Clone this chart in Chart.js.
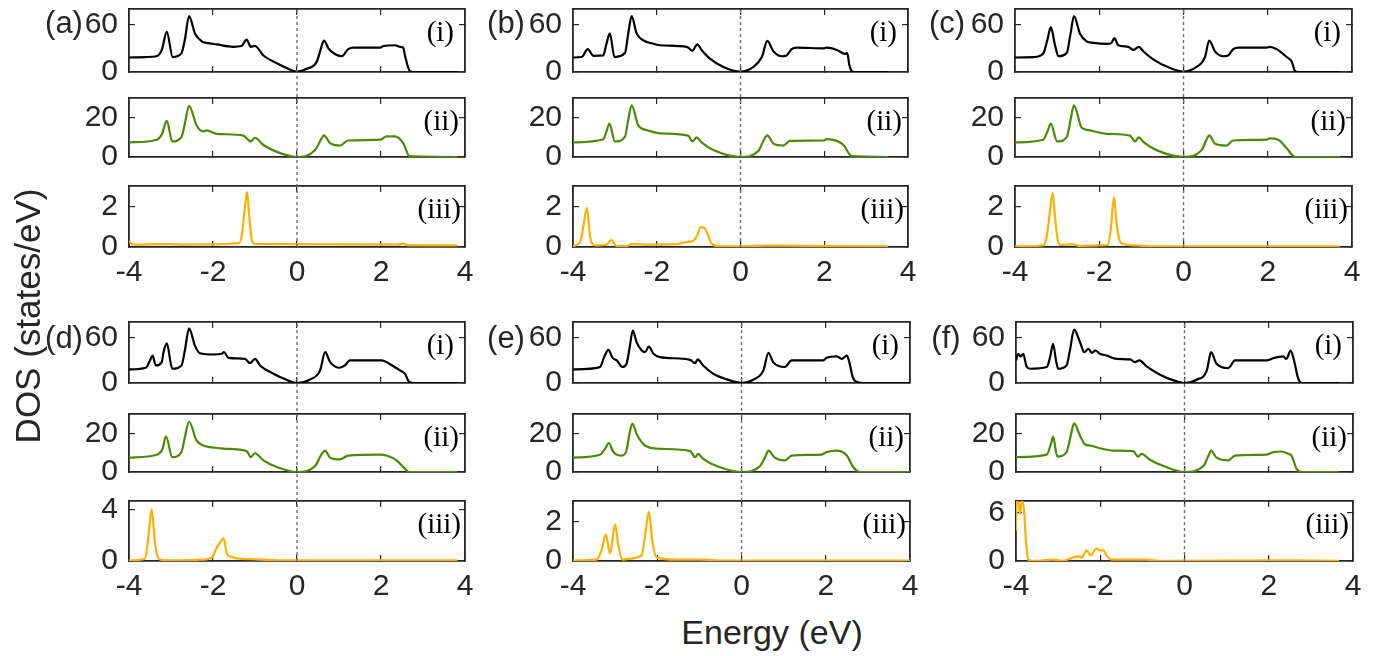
<!DOCTYPE html>
<html>
<head>
<meta charset="utf-8">
<script src="https://cdn.jsdelivr.net/npm/chart.js@4.4.1/dist/chart.umd.min.js"></script>
<style>
  html, body { margin: 0; padding: 0; background: #fff; }
  #fig { position: relative; width: 1385px; height: 656px; overflow: hidden;
         font-family: "Liberation Sans", Arial, sans-serif; color: #262626; }
  .panel { position: absolute; }
  .panel canvas { display: block; }
  .tag { position: absolute; font-size: 31px; line-height: 1; transform: translate(-50%, -50%); white-space: nowrap; }
  .sub { position: absolute; font-family: "Liberation Serif", serif; font-size: 29px; line-height: 1;
         transform: translateY(-50%); white-space: nowrap; color: #000; }
  .axlabel { position: absolute; font-size: 34px; line-height: 1; transform: translate(-50%, -50%); white-space: nowrap; }
</style>
</head>
<body>
<div id="fig"></div>
<script>
/* ---- tick labels ---- */
const energyTicks = [-4, -2, 0, 2, 4];
const totTicks = [0, 60];
const orbTicks = [0, 20];
const fermiLevel = 0;

/* ---- (a) ---- */
const aiE = [-4, -3.6, -3.34, -3.22, -3.10, -2.96, -2.75, -2.67, -2.57, -2.43, -2.27, -2.15, -1.91, -1.52, -1.32, -1.20, -1.10, -1.0, -0.80, -0.48, -0.25, 0, 0.23, 0.47, 0.56, 0.64, 0.75, 0.87, 1.06, 1.22, 1.34, 1.98, 2.06, 2.33, 2.45, 2.53, 2.57, 2.69, 2.77, 3.82];
const aiY = [18.4, 19, 20, 28, 51, 19, 24, 41, 71, 49, 39, 37, 35, 32, 33, 41, 32, 33, 21, 11, 5, 0.4, 4, 13, 28, 40, 30, 24, 20, 29, 31, 31, 33, 34, 32, 31, 21, 1, 0, 0];
const aiiE = [-4, -3.34, -3.22, -3.10, -2.97, -2.75, -2.67, -2.57, -2.39, -2.23, -2.15, -1.91, -1.28, -1.10, -1.0, -0.80, -0.48, 0, 0.43, 0.59, 0.64, 0.79, 1.02, 1.22, 1.98, 2.13, 2.33, 2.53, 2.68, 3.82];
const aiiY = [7.4, 8.8, 11.4, 18.4, 7.9, 10.2, 17, 26, 16, 13, 13.5, 11.8, 10.9, 7.9, 9.8, 6.1, 2.6, 0, 3.5, 9.6, 11, 7, 5.8, 8.4, 8.8, 10.5, 10.5, 7, 0.4, 0];
const aiiiE = [-4, -3.9, -3.1, -2.7, -1.37, -1.30, -1.24, -1.19, -1.14, -1.08, -1.0, 2.4, 2.53, 2.65, 3.82];
const aiiiY = [0.3, 0.12, 0.14, 0.12, 0.2, 0.8, 2.0, 2.75, 1.6, 0.4, 0.15, 0.12, 0.17, 0.08, 0.08];

/* ---- (b) ---- */
const biE = [-4, -3.79, -3.65, -3.51, -3.28, -3.20, -3.12, -3.01, -2.76, -2.68, -2.60, -2.48, -2.28, -2.16, -1.92, -1.28, -1.15, -1.03, -0.93, -0.73, -0.41, 0, 0.31, 0.51, 0.64, 0.79, 0.98, 1.10, 1.22, 1.34, 1.98, 2.06, 2.3, 2.5, 2.55, 2.6, 2.66, 2.72, 3.52];
const biY = [18.4, 19, 29, 20.6, 21, 36, 49, 19, 24, 49, 71, 49, 39, 37, 34, 32, 27, 35, 28, 17, 6.4, 0.4, 6.4, 19, 39.4, 26, 20, 21, 29, 31, 30, 31, 28, 23, 24, 8.6, 1, 0, 0];
const biiE = [-4, -3.28, -3.2, -3.13, -3.0, -2.76, -2.68, -2.6, -2.44, -2.24, -1.92, -1.25, -1.15, -1.05, -0.93, -0.65, 0, 0.43, 0.56, 0.64, 0.79, 1.02, 1.18, 1.98, 2.06, 2.3, 2.46, 2.66, 3.52];
const biiY = [7.4, 9, 13, 17, 7.9, 10.2, 19, 26.3, 16, 13.7, 12, 10.9, 7.9, 10, 7.4, 3.5, 0, 3.2, 8.8, 11, 6.7, 5.8, 8.2, 8.4, 9.1, 8.2, 6.1, 0.4, 0];
const biiiE = [-4, -3.83, -3.74, -3.67, -3.59, -3.47, -3.2, -3.08, -2.96, -2.72, -2.6, -2.2, -1.52, -1.28, -1.13, -1.03, -0.95, -0.87, -0.79, -0.69, -0.49, 0.71, 3.52];
const biiiY = [0.05, 0.25, 1.2, 1.95, 0.5, 0.08, 0.12, 0.34, 0.05, 0.05, 0.14, 0.12, 0.14, 0.25, 0.3, 0.6, 1.0, 0.97, 0.68, 0.17, 0.03, 0.07, 0.03];

/* ---- (c) ---- */
const ciE = [-4, -3.56, -3.33, -3.23, -3.15, -3.05, -2.97, -2.77, -2.68, -2.60, -2.46, -2.30, -2.14, -1.82, -1.71, -1.64, -1.55, -1.31, -1.19, -1.06, -0.95, -0.72, -0.32, 0, 0.31, 0.51, 0.61, 0.75, 0.94, 1.06, 1.18, 1.30, 1.97, 2.05, 2.21, 2.45, 2.57, 2.65, 2.72, 3.71];
const ciY = [18.4, 19, 23.6, 41, 57, 34, 20, 24.4, 49, 71, 49, 39, 37, 35.6, 37, 43, 34, 32, 28, 32, 26, 16, 5, 0.4, 6.4, 19, 40, 26, 20, 21, 29, 31, 31, 32, 29, 19, 13, 1, 0, 0];
const ciiE = [-4, -3.33, -3.23, -3.15, -3.0, -2.77, -2.68, -2.6, -2.42, -2.26, -1.82, -1.27, -1.15, -1.06, -0.94, -0.64, 0, 0.43, 0.55, 0.61, 0.75, 1.02, 1.18, 1.97, 2.05, 2.25, 2.45, 2.61, 2.68, 3.71];
const ciiY = [7.4, 8.8, 13, 17, 7.9, 10.2, 19, 26.3, 15, 13.7, 11.8, 10.9, 7.9, 10, 7.4, 3.5, 0, 3.5, 9.1, 11, 6.7, 5.8, 8.4, 8.8, 9.5, 8.8, 4.4, 0.4, 0, 0];
const ciiiE = [-4, -3.33, -3.25, -3.18, -3.11, -3.05, -2.99, -2.93, -2.63, -2.46, -1.98, -1.80, -1.73, -1.65, -1.59, -1.52, -1.43, -1.11, -0.7, 3.71];
const ciiiY = [0.03, 0.08, 0.5, 1.6, 2.7, 1.5, 0.4, 0.1, 0.14, 0.05, 0.08, 0.1, 0.8, 2.5, 1.2, 0.35, 0.15, 0.08, 0.03, 0.03];

/* ---- (d) ---- */
const diE = [-4, -3.6, -3.5, -3.44, -3.36, -3.22, -3.18, -3.10, -2.97, -2.75, -2.67, -2.57, -2.43, -2.31, -1.99, -1.79, -1.74, -1.63, -1.24, -1.12, -1.0, -0.88, -0.56, -0.25, 0, 0.3, 0.55, 0.67, 0.79, 1.02, 1.14, 1.26, 2.02, 2.21, 2.45, 2.57, 2.67, 2.77, 3.82];
const diY = [17.8, 20, 29.6, 36, 23, 27.4, 40, 52, 18.7, 23, 42.6, 71.7, 49, 39, 37.4, 38.3, 40.4, 33, 31.7, 26, 31.7, 23, 12.2, 4.3, 0, 4.3, 16.5, 40.4, 27.4, 20, 23, 29.6, 29.6, 25, 16.5, 12.2, 1.3, 0, 0];
const diiE = [-4, -3.34, -3.2, -3.12, -2.97, -2.75, -2.67, -2.57, -2.39, -2.23, -1.83, -1.71, -1.2, -1.1, -1.0, -0.8, -0.48, 0, 0.43, 0.59, 0.67, 0.79, 1.02, 1.22, 1.98, 2.13, 2.37, 2.57, 2.67, 3.82];
const diiY = [7.4, 8.9, 12, 18.5, 7.7, 10.3, 18, 26, 16.2, 13.7, 12.3, 12, 10.8, 7.7, 9.7, 6, 2.6, 0, 3.1, 9.4, 11.1, 7.4, 6.5, 8.5, 9, 8.5, 6, 1.7, 0, 0];
const diiiE = [-4, -3.62, -3.54, -3.46, -3.38, -3.28, -3.1, -2.31, -2.03, -1.91, -1.82, -1.75, -1.67, -1.6, -1.36, -0.96, -0.33, 3.82];
const diiiY = [0.05, 0.18, 1.9, 4.05, 1.37, 0.13, 0.05, 0.1, 0.26, 1.05, 1.5, 1.8, 0.58, 0.37, 0.18, 0.13, 0.05, 0.05];

/* ---- (e) ---- */
const eiE = [-4, -3.36, -3.26, -3.16, -3.06, -2.96, -2.83, -2.73, -2.66, -2.58, -2.49, -2.29, -2.2, -2.09, -1.94, -1.22, -1.1, -1.04, -0.91, -0.67, -0.35, 0, 0.28, 0.52, 0.64, 0.75, 1.03, 1.19, 1.94, 2.02, 2.26, 2.38, 2.5, 2.56, 2.64, 2.77, 2.89, 4];
const eiY = [17.8, 20.9, 34, 43.5, 33, 29.6, 21, 25, 45, 68.7, 53.5, 40.4, 47.8, 38.3, 34, 30.4, 26, 31, 23, 12.2, 4.8, 0, 4.3, 16.5, 39.6, 27.4, 21, 29.6, 29.6, 33, 35, 31.7, 36, 27.4, 7.8, 0.9, 0, 0];
const eiiE = [-4, -3.36, -3.24, -3.15, -3.04, -2.84, -2.73, -2.66, -2.59, -2.49, -2.29, -1.94, -1.22, -1.1, -1.03, -0.91, -0.59, 0, 0.44, 0.56, 0.64, 0.79, 1.03, 1.19, 1.9, 2.02, 2.26, 2.5, 2.65, 2.77, 2.89, 4];
const eiiY = [7.4, 8.9, 12, 15, 10.3, 8.5, 11.1, 19.7, 25, 19.7, 13.7, 12, 10.8, 7.7, 9.4, 6.8, 3.1, 0, 3.1, 7.7, 11.1, 7.4, 6, 8.5, 9, 10.3, 11.1, 8.5, 2.6, 0.3, 0, 0];
const eiiiE = [-4, -3.44, -3.32, -3.22, -3.12, -3.0, -2.92, -2.83, -2.65, -2.37, -2.29, -2.2, -2.11, -2.01, -1.54, -0.99, -0.4, 4];
const eiiiY = [0.03, 0.07, 0.56, 1.34, 0.38, 1.86, 0.73, 0.07, 0.12, 0.3, 1.25, 2.5, 0.9, 0.17, 0.07, 0.07, 0.02, 0.02];

/* ---- (f) ---- */
const fiE = [-4, -3.95, -3.89, -3.83, -3.75, -3.67, -3.27, -3.19, -3.12, -3.05, -3.0, -2.8, -2.72, -2.62, -2.48, -2.38, -2.28, -2.2, -2.11, -2.01, -1.85, -1.61, -1.29, -1.18, -1.07, -0.9, -0.58, -0.26, 0, 0.29, 0.53, 0.63, 0.76, 1.04, 1.2, 1.95, 2.11, 2.34, 2.42, 2.52, 2.6, 2.7, 2.78, 3.67];
const fiY = [29.6, 38.3, 34.8, 38.3, 21.7, 18.7, 21, 34, 51.3, 29.6, 18.7, 23, 42.6, 70, 53.5, 40.4, 44.8, 39.6, 42.6, 38.3, 36, 31.7, 30.9, 27.4, 29.6, 21.7, 10.9, 3.5, 0, 4.3, 16.5, 40.4, 25.2, 19.6, 29.6, 29.6, 32.6, 34.8, 31.7, 42.6, 29.6, 5.7, 0, 0];
const fiiE = [-4, -3.27, -3.17, -3.12, -3.02, -2.8, -2.7, -2.62, -2.48, -2.36, -2.24, -2.01, -1.69, -1.22, -1.1, -1.02, -0.82, -0.5, 0, 0.45, 0.57, 0.63, 0.76, 1.04, 1.2, 1.95, 2.11, 2.31, 2.46, 2.54, 2.66, 2.78, 3.67];
const fiiY = [7.7, 9, 14.5, 18.3, 8, 10.3, 18.8, 25.1, 18.8, 14.2, 13.7, 12.3, 11.1, 10.8, 8, 9.4, 6.3, 3.1, 0, 3.1, 8.5, 11.1, 7.4, 6, 8.5, 9, 10.3, 10.6, 9.4, 8.5, 1.7, 0, 0];
const fiiiE = [-4, -3.99, -3.94, -3.9, -3.87, -3.83, -3.76, -3.71, -3.6, -3.11, -2.88, -2.72, -2.52, -2.44, -2.32, -2.23, -2.09, -2.01, -1.93, -1.85, -1.73, -0.9, -0.58, 2.5, 3.67];
const fiiiY = [3.8, 7.4, 7.2, 5.9, 7.4, 7.4, 2.2, 0.17, 0.02, 0.17, 0.02, 0.3, 0.58, 0.42, 1.33, 0.7, 1.54, 1.33, 1.33, 0.7, 0.17, 0.17, 0.02, 0.08, 0.02];

const lineColors = ['#000000', '#4c8a06', '#ffb000'];
const subLabels = ['(i)', '(ii)', '(iii)'];

// plot boxes (px) for each group
const groups = [
  { tag: '(a)', tx: 64,  ty: 22,  l: 129,  r: 465,  rows: [[9, 72], [98, 157], [186, 247]],
    curves: [[aiE, aiY], [aiiE, aiiY], [aiiiE, aiiiY]], yMax: [80, 30, 3.05], yTicks: [totTicks, orbTicks, [0, 2]] },
  { tag: '(b)', tx: 506, ty: 22,  l: 573,  r: 908,  rows: [[9, 72], [98, 157], [186, 247]],
    curves: [[biE, biY], [biiE, biiY], [biiiE, biiiY]], yMax: [80, 30, 3.05], yTicks: [totTicks, orbTicks, [0, 2]] },
  { tag: '(c)', tx: 947, ty: 22,  l: 1015, r: 1352, rows: [[9, 72], [98, 157], [186, 247]],
    curves: [[ciE, ciY], [ciiE, ciiY], [ciiiE, ciiiY]], yMax: [80, 30, 3.05], yTicks: [totTicks, orbTicks, [0, 2]] },
  { tag: '(d)', tx: 64,  ty: 337, l: 129,  r: 465,  rows: [[322, 383], [414, 472], [501, 561]],
    curves: [[diE, diY], [diiE, diiY], [diiiE, diiiY]], yMax: [80, 30, 4.7], yTicks: [totTicks, orbTicks, [0, 4]] },
  { tag: '(e)', tx: 506, ty: 337, l: 573,  r: 910,  rows: [[322, 383], [414, 472], [501, 561]],
    curves: [[eiE, eiY], [eiiE, eiiY], [eiiiE, eiiiY]], yMax: [80, 30, 3.05], yTicks: [totTicks, orbTicks, [0, 2]] },
  { tag: '(f)', tx: 946, ty: 337, l: 1016, r: 1353, rows: [[322, 383], [414, 472], [501, 561]],
    curves: [[fiE, fiY], [fiiE, fiiY], [fiiiE, fiiiY]], yMax: [80, 30, 7.5], yTicks: [totTicks, orbTicks, [0, 6]] }
];

const fig = document.getElementById('fig');
const INK = '#262626';
const tickFont = { family: '"Liberation Sans", Arial, sans-serif', size: 30 };

function fixedBox(size, horizontal) {
  return (scale) => {
    if (horizontal) scale.height = size; else scale.width = size;
    scale.paddingLeft = 0; scale.paddingRight = 0;
    scale.paddingTop = 0; scale.paddingBottom = 0;
  };
}

function setTicks(vals) {
  return (scale) => { scale.ticks = vals.map(v => ({ value: v })); };
}

function axis(position, min, max, ticks, size, showLabels, padding) {
  const horizontal = position === 'top' || position === 'bottom';
  return {
    type: 'linear',
    position,
    min, max,
    afterBuildTicks: setTicks(ticks),
    afterFit: fixedBox(size, horizontal),
    ticks: { display: showLabels, padding, font: tickFont, color: INK },
    grid: { drawOnChartArea: false, drawTicks: true, tickLength: -6, color: INK, lineWidth: 1.2 },
    border: { display: true, color: INK, width: 1.8 }
  };
}

function addBox(x, y, w, h) {
  const div = document.createElement('div');
  div.className = 'panel';
  div.style.left = x + 'px';
  div.style.top = y + 'px';
  const cv = document.createElement('canvas');
  cv.width = w; cv.height = h;
  cv.style.width = w + 'px'; cv.style.height = h + 'px';
  div.appendChild(cv);
  fig.appendChild(div);
  return cv;
}

function makePanel(g, k) {
  const [y0, y1] = g.rows[k];
  const [E, D] = g.curves[k];
  const L = 90, R = 20, T = 20, B = k === 2 ? 50 : 20;
  const cv = addBox(g.l - L, y0 - T, g.r - g.l + L + R, y1 - y0 + T + B);

  new Chart(cv, {
    type: 'scatter',
    data: {
      datasets: [{
        data: E.map((e, i) => ({ x: e, y: D[i] })),
        showLine: true,
        borderColor: lineColors[k],
        borderWidth: 2.2,
        pointRadius: 0,
        cubicInterpolationMode: 'monotone',
        fill: false
      }]
    },
    options: {
      responsive: false,
      animation: false,
      events: [],
      layout: { padding: 0 },
      plugins: { legend: { display: false }, tooltip: { enabled: false } },
      scales: {
        x:  axis('bottom', -4, 4, energyTicks, B, k === 2, 14),
        x2: axis('top', -4, 4, energyTicks, T, false, 0),
        y:  axis('left', 0, g.yMax[k], g.yTicks[k], L, true, 17),
        y2: axis('right', 0, g.yMax[k], g.yTicks[k], R, false, 0)
      }
    }
  });

  const s = document.createElement('div');
  s.className = 'sub';
  s.textContent = subLabels[k];
  s.style.right = (1385 - g.r + [11, 6, 4][k]) + 'px';
  s.style.top = (y0 + 22) + 'px';
  fig.appendChild(s);
}

function makeFermiLine(g) {
  const top = g.rows[0][0], bottom = g.rows[2][1];
  const cv = addBox(g.l, top, g.r - g.l, bottom - top);
  new Chart(cv, {
    type: 'scatter',
    data: {
      datasets: [{
        data: [{ x: fermiLevel, y: 0 }, { x: fermiLevel, y: 1 }],
        showLine: true,
        borderColor: '#707070',
        borderWidth: 1.4,
        borderDash: [3, 3],
        pointRadius: 0,
        clip: false
      }]
    },
    options: {
      responsive: false,
      animation: false,
      events: [],
      layout: { padding: 0 },
      plugins: { legend: { display: false }, tooltip: { enabled: false } },
      scales: {
        x: { type: 'linear', min: -4, max: 4, display: false },
        y: { type: 'linear', min: 0, max: 1, display: false }
      }
    }
  });
}

groups.forEach(g => {
  [0, 1, 2].forEach(k => makePanel(g, k));
  makeFermiLine(g);
  const t = document.createElement('div');
  t.className = 'tag';
  t.textContent = g.tag;
  t.style.left = g.tx + 'px';
  t.style.top = g.ty + 'px';
  fig.appendChild(t);
});

const ylab = document.createElement('div');
ylab.className = 'axlabel';
ylab.textContent = 'DOS (states/eV)';
ylab.style.left = '27px';
ylab.style.top = '316px';
ylab.style.fontSize = '35px';
ylab.style.transform = 'translate(-50%, -50%) rotate(-90deg)';
fig.appendChild(ylab);

const xlab = document.createElement('div');
xlab.className = 'axlabel';
xlab.textContent = 'Energy (eV)';
xlab.style.left = '772px';
xlab.style.top = '632px';
fig.appendChild(xlab);
</script>
</body>
</html>
